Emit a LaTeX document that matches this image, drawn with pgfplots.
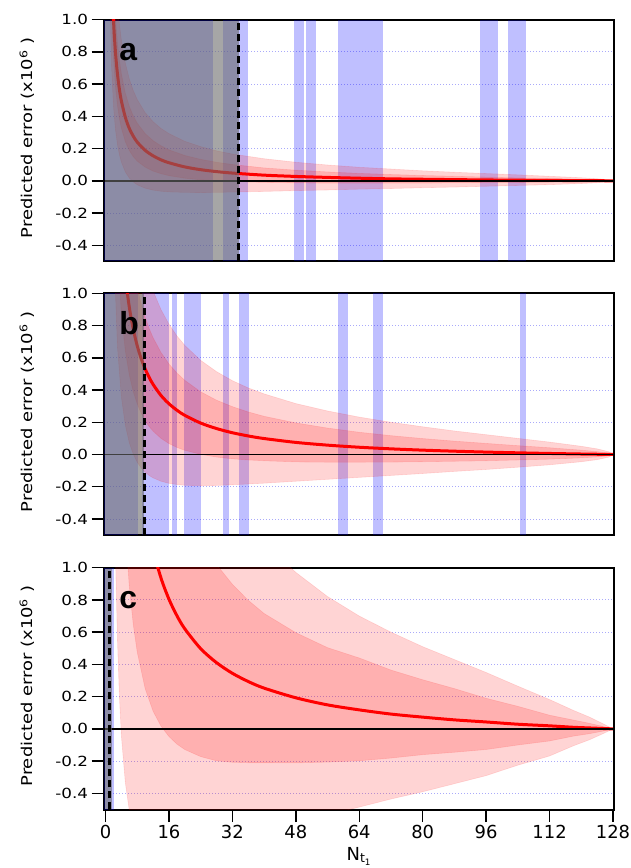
\documentclass[border=0pt]{standalone}
\usepackage{pgfplots}
\pgfplotsset{compat=1.18}
\usepackage{pgfplotstable}
\usepackage{fontspec}
\setmainfont{DejaVu Sans}
\newfontfamily\widefont[FakeStretch=1.2]{DejaVu Sans}
\newfontfamily\letterfont{Liberation Sans}
\newcommand\ytickfont{\widefont\fontsize{14}{14}\selectfont}
\newcommand\ylabfont{\widefont\fontsize{15}{15}\selectfont}
\newcommand\xtickfont{\fontsize{18}{18}\selectfont}
\newcommand\panelfont{\letterfont\bfseries\fontsize{32}{32}\selectfont}
\definecolor{gridblue}{RGB}{170,170,250}

% ---------------- panel a ----------------
\pgfplotstableread{
x y
1 2.032
1.5 1.349
2 1.008
2.5 0.803
3 0.667
3.5 0.569
4 0.496
5 0.394
6 0.325
7 0.277
8 0.240
10 0.189
12 0.155
14 0.130
16 0.112
20 0.086
24 0.069
28 0.057
32 0.048
40 0.035
48 0.027
56 0.021
64 0.016
72 0.012
80 0.0096
88 0.0073
96 0.0053
104 0.0037
112 0.0023
120 0.0011
124 0.0005
127 0.0001
128 0
}\meanA
\pgfplotstableread{
x y
1 2.37
1.5 1.628
2 1.249
2.5 1.018
3 0.863
3.5 0.750
4 0.665
5 0.544
6 0.462
7 0.403
8 0.358
10 0.293
12 0.249
14 0.217
16 0.192
20 0.157
24 0.133
28 0.115
32 0.101
40 0.080
48 0.066
56 0.055
64 0.046
72 0.039
80 0.033
88 0.028
96 0.023
104 0.018
112 0.014
120 0.009
124 0.006
127 0.0028
128 0
127 -0.0026
124 -0.005
120 -0.007
112 -0.009
104 -0.011
96 -0.012
88 -0.013
80 -0.014
72 -0.014
64 -0.014
56 -0.014
48 -0.013
40 -0.010
32 -0.005
28 0.000
24 0.006
20 0.016
16 0.032
14 0.044
12 0.060
10 0.085
8 0.122
7 0.150
6 0.188
5 0.243
4 0.327
3.5 0.388
3 0.471
2.5 0.588
2 0.767
1.5 1.070
1 1.69
}\innerA
\pgfplotstableread{
x y
1 2.80
1.5 1.976
2 1.550
2.5 1.287
3 1.108
3.5 0.976
4 0.876
5 0.732
6 0.633
7 0.561
8 0.505
10 0.423
12 0.367
14 0.325
16 0.293
20 0.245
24 0.212
28 0.186
32 0.166
40 0.137
48 0.115
56 0.098
64 0.084
72 0.073
80 0.062
88 0.053
96 0.045
104 0.037
112 0.028
120 0.019
124 0.013
127 0.0062
128 0
127 -0.0059
124 -0.012
120 -0.017
112 -0.024
104 -0.029
96 -0.034
88 -0.039
80 -0.043
72 -0.048
64 -0.052
56 -0.057
48 -0.061
40 -0.066
32 -0.070
28 -0.072
24 -0.073
20 -0.072
16 -0.069
14 -0.065
12 -0.058
10 -0.046
8 -0.025
7 -0.007
6 0.017
5 0.055
4 0.116
3.5 0.162
3 0.226
2.5 0.319
2 0.466
1.5 0.722
1 1.262
}\outerA

% ---------------- panel b ----------------
\pgfplotstableread{
x y
2 2.835
3 1.875
4 1.395
5 1.107
6 0.915
7 0.778
8 0.675
9 0.595
10 0.531
11 0.479
12 0.435
14 0.366
16 0.315
18 0.275
20 0.243
24 0.195
28 0.161
32 0.135
36 0.115
40 0.099
48 0.075
56 0.058
64 0.045
72 0.035
80 0.027
88 0.0205
96 0.015
104 0.0104
112 0.0064
120 0.003
124 0.0015
127 0.0004
128 0
}\meanB
\pgfplotstableread{
x y
2 3
3 2.477
4 1.915
5 1.570
6 1.336
7 1.166
8 1.037
9 0.934
10 0.852
11 0.783
12 0.725
14 0.633
16 0.562
18 0.506
20 0.460
24 0.389
28 0.337
32 0.297
36 0.264
40 0.237
48 0.196
56 0.164
64 0.138
72 0.117
80 0.099
88 0.083
96 0.069
104 0.055
112 0.042
120 0.027
124 0.018
127 0.009
128 0
127 -0.008
124 -0.015
120 -0.021
112 -0.029
104 -0.034
96 -0.039
88 -0.042
80 -0.045
72 -0.047
64 -0.048
56 -0.048
48 -0.046
40 -0.039
36 -0.034
32 -0.027
28 -0.016
24 0.001
20 0.026
18 0.044
16 0.068
14 0.100
12 0.145
11 0.174
10 0.210
9 0.256
8 0.314
7 0.390
6 0.494
5 0.644
4 0.875
3 1.272
2 2.094
}\innerB
\pgfplotstableread{
x y
2 3
3 3
4 2.434
5 2.033
6 1.757
7 1.554
8 1.398
9 1.274
10 1.172
11 1.087
12 1.015
14 0.899
16 0.809
18 0.736
20 0.677
24 0.584
28 0.514
32 0.458
36 0.413
40 0.376
48 0.316
56 0.270
64 0.232
72 0.200
80 0.172
88 0.146
96 0.123
104 0.100
112 0.077
120 0.051
124 0.035
127 0.017
128 0
127 -0.016
124 -0.032
120 -0.045
112 -0.064
104 -0.079
96 -0.093
88 -0.105
80 -0.118
72 -0.130
64 -0.142
56 -0.154
48 -0.166
40 -0.178
36 -0.183
32 -0.188
28 -0.192
24 -0.194
20 -0.191
18 -0.186
16 -0.179
14 -0.166
12 -0.145
11 -0.130
10 -0.110
9 -0.084
8 -0.048
7 0.002
6 0.073
5 0.181
4 0.356
3 0.670
2 1.353
}\outerB

% ---------------- panel c ----------------
\pgfplotstableread{
x y
6 2.338
7 1.988
8 1.725
10 1.357
12 1.112
14 0.936
16 0.805
18 0.703
20 0.621
24 0.498
28 0.411
32 0.345
36 0.294
40 0.253
48 0.193
56 0.149
64 0.118
72 0.092
80 0.073
88 0.056
96 0.043
104 0.029
112 0.019
118 0.010
122 0.006
125 0.003
127 0.001
128 0
}\meanC
\pgfplotstableread{
x y
2 3
7 3
8 2.973
10 2.464
12 2.114
14 1.855
16 1.657
18 1.500
20 1.370
24 1.168
28 1.020
32 0.897
36 0.798
40 0.716
48 0.597
56 0.504
64 0.440
72 0.365
80 0.305
88 0.250
96 0.19
104 0.14
112 0.085
118 0.055
122 0.035
125 0.018
127 0.006
128 0
127 -0.006
125 -0.016
122 -0.03
118 -0.045
112 -0.075
104 -0.10
96 -0.128
88 -0.145
80 -0.160
72 -0.181
64 -0.198
56 -0.206
48 -0.211
40 -0.210
36 -0.210
32 -0.207
28 -0.198
24 -0.172
20 -0.128
18 -0.094
16 -0.047
14 0.017
12 0.110
10 0.250
8 0.477
7 0.648
6 0.885
5 1.231
4 1.771
3 2.712
2 3
}\innerC
\pgfplotstableread{
x y
1.5 3
12 3
14 2.707
16 2.447
18 2.237
20 2.055
24 1.775
28 1.565
32 1.396
36 1.265
40 1.148
48 0.971
56 0.821
64 0.70
72 0.60
80 0.51
88 0.43
96 0.35
104 0.265
112 0.182
118 0.115
122 0.074
125 0.038
127 0.013
128 0
127 -0.012
125 -0.035
122 -0.068
118 -0.105
112 -0.168
104 -0.225
96 -0.29
88 -0.34
80 -0.39
72 -0.435
64 -0.485
56 -0.535
48 -0.585
40 -0.642
36 -0.677
32 -0.706
28 -0.743
24 -0.779
20 -0.813
18 -0.831
16 -0.837
14 -0.835
12 -0.828
10 -0.787
8 -0.705
7 -0.621
6 -0.506
5 -0.333
4 -0.041
3.5 0.208
3 0.567
2.5 1.087
2 1.942
1.5 3
}\outerC

\newcommand\band[2]{\addplot[fill=blue, fill opacity=0.25, draw=none] coordinates {(#1,-0.5) (#1,1) (#2,1) (#2,-0.5)};}
\newcommand\grayover[1]{\addplot[fill=black!58, fill opacity=0.6, draw=none] coordinates {(-0.1,-0.494) (-0.1,0.994) (#1,0.994) (#1,-0.494)};}
\newcommand\cutline[1]{\addplot[black, line width=3bp, dash pattern=on 7bp off 4bp] coordinates {(#1,-0.5) (#1,1)};}
\newcommand\zeroline{\addplot[black, line width=1.6bp] coordinates {(-0.35,0) (128.25,0)};}

\pgfplotsset{
  panel/.style={
    scale only axis, x=3.965bp, y=161.2bp,
    xmin=-0.35, xmax=128.25, ymin=-0.5, ymax=1.0,
    axis line style={line width=2bp},
    tick align=outside, major tick length=12.5bp,
    every tick/.style={black, line width=1.5bp},
    ytick={-0.4,-0.2,0,0.2,0.4,0.6,0.8,1.0},
    yticklabels={-0.4,-0.2,0.0,0.2,0.4,0.6,0.8,1.0},
    ytick pos=left, xtick pos=bottom,
    yticklabel style={font=\ytickfont},
    ymajorgrids, major grid style={gridblue, line width=0.9bp, dash pattern=on 1.1bp off 1.9bp},
    ylabel={Predicted error (x10\textsuperscript{6} )},
    ylabel style={font=\ylabfont, at={(axis description cs:-0.151,0.51)}, anchor=center},
  },
  innerband/.style={fill=red, fill opacity=0.17, draw=red, draw opacity=0.12, line width=0.6bp},
  meanline/.style={red, line width=3bp, smooth},
}

\begin{document}
\begin{tikzpicture}
\path[use as bounding box] (0,0) rectangle (631bp,868bp);

% ---- a ----
\begin{axis}[panel, at={(104.1bp,606.6bp)}, anchor=south west, xtick=\empty]
\band{-0.35}{27.2}
\band{29.7}{36.0}
\band{47.5}{50.1}
\band{50.6}{53.1}
\band{58.6}{69.9}
\band{94.5}{98.9}
\band{101.5}{106.0}
\addplot[innerband] table {\outerA};
\addplot[innerband] table {\innerA};
\addplot[meanline] table {\meanA};
\zeroline
\grayover{33.6}
\cutline{33.6}
\node[anchor=base west, font=\panelfont] at (axis cs:2.6,0.745) {a};
\end{axis}

% ---- b ----
\begin{axis}[panel, at={(104.1bp,332.9bp)}, anchor=south west, xtick=\empty]
\band{-0.35}{8.3}
\band{9.3}{16.0}
\band{16.8}{18.1}
\band{19.7}{24.1}
\band{29.7}{31.1}
\band{33.7}{36.1}
\band{58.6}{61.1}
\band{67.5}{70.0}
\band{104.5}{106.0}
\addplot[innerband] table {\outerB};
\addplot[innerband] table {\innerB};
\addplot[meanline] table {\meanB};
\zeroline
\grayover{9.75}
\cutline{9.75}
\node[anchor=base west, font=\panelfont] at (axis cs:2.6,0.745) {b};
\end{axis}

% ---- c ----
\begin{axis}[panel, at={(104.1bp,58.5bp)}, anchor=south west,
  xtick={0,16,32,48,64,80,96,112,128},
  xticklabels={0,16,32,48,64,80,96,112,128},
  xticklabel style={font=\xtickfont},
  xlabel={N\textsubscript{t\textsubscript{1}}},
  xlabel style={font=\xtickfont, at={(axis description cs:0.5,0)}, anchor=base, yshift=-50.5bp}]
\band{-0.35}{2.2}
\addplot[innerband] table {\outerC};
\addplot[innerband] table {\innerC};
\addplot[meanline] table {\meanC};
\zeroline
\grayover{1.56}
\cutline{0.96}
\node[anchor=base west, font=\panelfont] at (axis cs:2.6,0.745) {c};
\end{axis}
\end{tikzpicture}
\end{document}
